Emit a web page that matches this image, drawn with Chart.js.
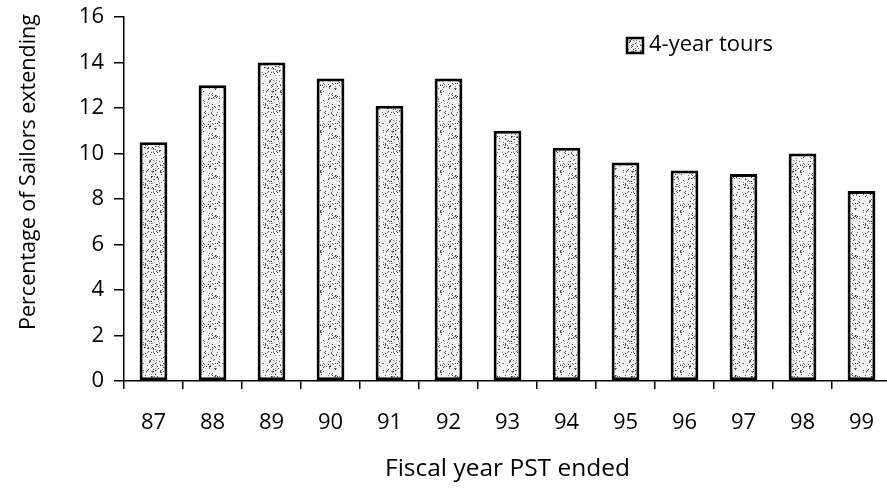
<!DOCTYPE html>
<html lang="en">
<head>
<meta charset="UTF-8" />
<title>4-year tours</title>
<style>
  html, body {
    margin: 0;
    padding: 0;
    background: #fff;
    overflow: hidden;
  }
  .wrap {
    position: relative;
    width: 892px;
    height: 492px;
  }
</style>
</head>
<body>

<div class="wrap">
  <canvas id="tourChart" width="892" height="492"></canvas>
</div>

<script src="https://cdn.jsdelivr.net/npm/chart.js"></script>
<script>
const years = ['87', '88', '89', '90', '91', '92', '93', '94', '95', '96', '97', '98', '99'];
const fourYearTours = [10.5, 13.0, 14.0, 13.3, 12.1, 13.3, 11.0, 10.25, 9.6, 9.25, 9.1, 10.0, 8.35];
const yTicks = [0, 2, 4, 6, 8, 10, 12, 14, 16];

const FONT = "'Open Sans', sans-serif";

// stippled fill like the printed original
function makeStipple() {
    const c = document.createElement('canvas');
    c.width = 40;
    c.height = 40;
    const g = c.getContext('2d');
    g.fillStyle = '#f4f4f4';
    g.fillRect(0, 0, 40, 40);
    let s = 12345;
    function next() {
        s = (s * 1103515245 + 12345) % 2147483648;
        return s / 2147483648;
    }
    for (let i = 0; i < 230; i++) {
        const x = Math.floor(next() * 40);
        const y = Math.floor(next() * 40);
        const shade = Math.floor(40 + next() * 110);
        g.fillStyle = `rgb(${shade},${shade},${shade})`;
        g.fillRect(x, y, 1, 1);
    }
    return g.createPattern(c, 'repeat');
}

const stipple = makeStipple();

const extraText = {
    id: 'extraText',
    afterDraw(chart) {
        const ctx = chart.ctx;
        ctx.save();
        // y axis title
        ctx.fillStyle = '#000';
        ctx.font = `21.5px ${FONT}`;
        ctx.textAlign = 'center';
        ctx.textBaseline = 'middle';
        ctx.translate(29, 172);
        ctx.rotate(-Math.PI / 2);
        ctx.fillText('Percentage of Sailors extending', 0, 0);
        ctx.restore();

        // legend
        const ds = chart.data.datasets[0];
        ctx.save();
        ctx.fillStyle = ds.backgroundColor;
        ctx.fillRect(627, 38, 16, 15);
        ctx.lineWidth = 2.5;
        ctx.strokeStyle = '#000';
        ctx.strokeRect(627, 38, 16, 15);
        ctx.fillStyle = '#000';
        ctx.font = `22px ${FONT}`;
        ctx.textAlign = 'left';
        ctx.textBaseline = 'middle';
        ctx.fillText(ds.label, 649, 45);
        ctx.restore();
    }
};

const ctx = document.getElementById('tourChart').getContext('2d');

new Chart(ctx, {
    type: 'bar',
    data: {
        labels: years,
        datasets: [{
            label: '4-year tours',
            data: fourYearTours,
            backgroundColor: stipple,
            borderColor: '#000',
            borderWidth: 3,
            borderSkipped: false,
            categoryPercentage: 1,
            barPercentage: 0.47
        }]
    },
    options: {
        responsive: false,
        animation: false,
        layout: {
            padding: {left: 0, right: 1, top: 17, bottom: 0}
        },
        plugins: {
            legend: {display: false},
            tooltip: {enabled: false}
        },
        scales: {
            y: {
                min: 0,
                max: 16,
                afterBuildTicks: (axis) => {
                    axis.ticks = yTicks.map(v => ({value: v}));
                },
                afterFit: (axis) => {
                    axis.width = 124;
                    axis.paddingTop = 0;
                    axis.paddingBottom = 0;
                },
                border: {display: true, color: '#000', width: 1.5},
                grid: {
                    drawOnChartArea: false,
                    drawTicks: true,
                    tickLength: 10,
                    color: '#000',
                    lineWidth: 1.5
                },
                ticks: {
                    color: '#000',
                    font: {family: FONT, size: 22},
                    padding: 10
                }
            },
            x: {
                afterFit: (axis) => {
                    axis.height = 111;
                    axis.paddingLeft = 0;
                    axis.paddingRight = 0;
                },
                border: {display: true, color: '#000', width: 1.5},
                grid: {
                    offset: true,
                    drawOnChartArea: false,
                    drawTicks: true,
                    tickLength: 8,
                    color: '#000',
                    lineWidth: 1.5
                },
                ticks: {
                    color: '#000',
                    font: {family: FONT, size: 22},
                    padding: 21,
                    maxRotation: 0
                },
                title: {
                    display: true,
                    text: 'Fiscal year PST ended',
                    color: '#000',
                    font: {family: FONT, size: 24.5},
                    padding: {top: 0, bottom: 8}
                }
            }
        }
    },
    plugins: [extraText]
});
</script>

</body>
</html>
